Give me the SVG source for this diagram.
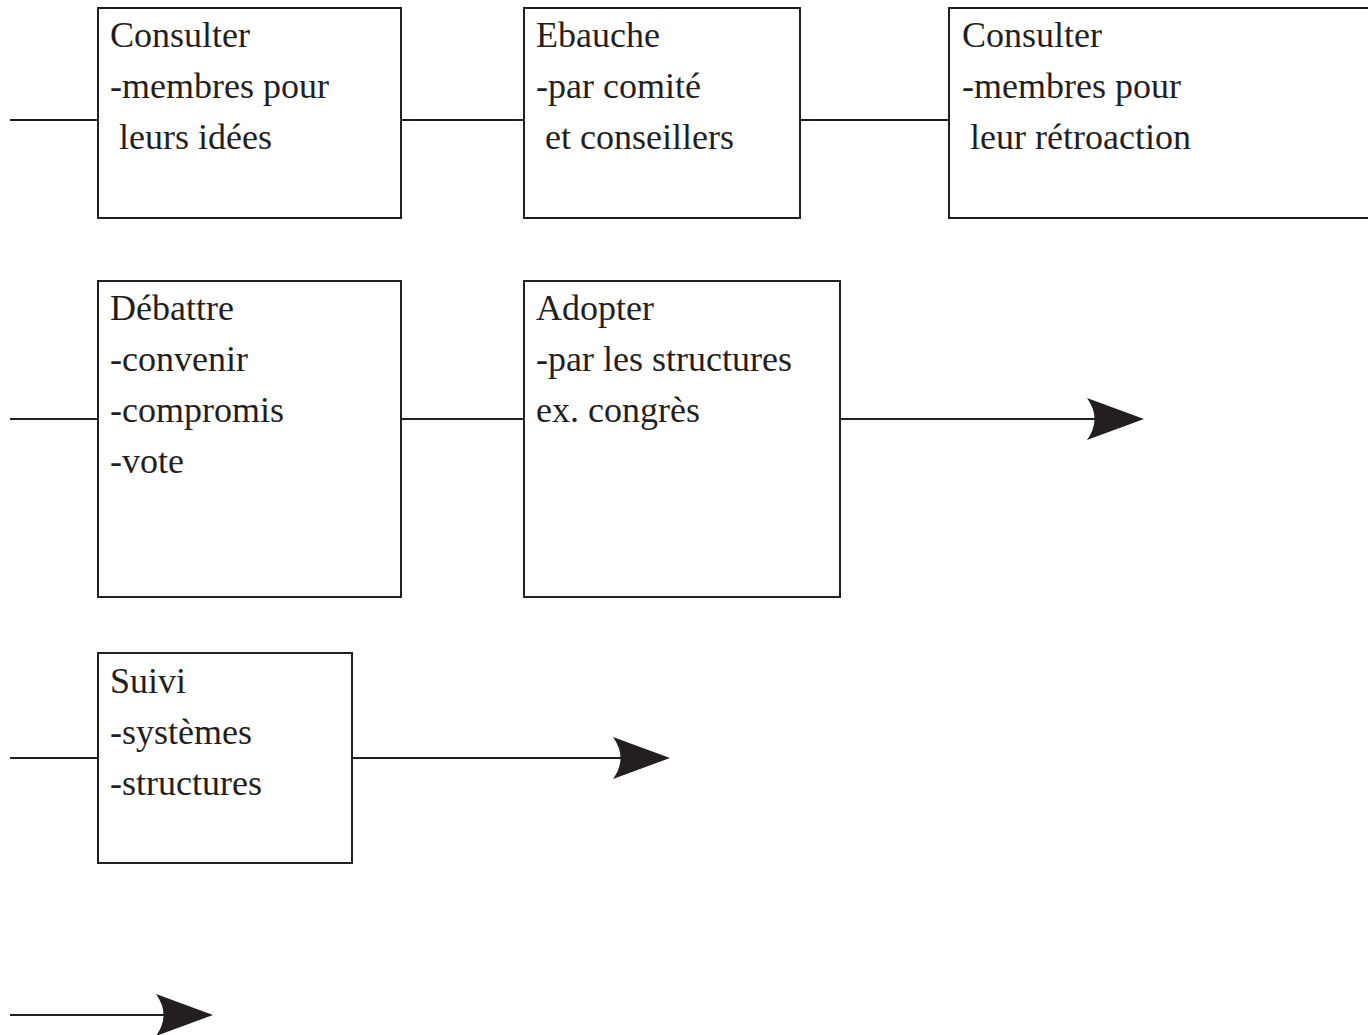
<svg xmlns="http://www.w3.org/2000/svg" width="1368" height="1035" viewBox="0 0 1368 1035">
<defs>
<style>
.box{fill:#fff;stroke:#231f20;stroke-width:2}
.ln{fill:none;stroke:#231f20;stroke-width:1.8}
.ah{fill:#231f20;stroke:none}
text{font-family:"Liberation Serif","Times New Roman",serif;font-size:36px;fill:#231f20}
</style>
<path id="head" d="M0,0 L-57,-21 Q-42,0 -57,21 Z"/>
</defs>
<rect width="1368" height="1035" fill="#fff"/>
<g id="connectors">
<line class="ln" x1="10" y1="120" x2="98" y2="120"/>
<line class="ln" x1="401" y1="120" x2="524" y2="120"/>
<line class="ln" x1="800" y1="120" x2="949" y2="120"/>
<line class="ln" x1="10" y1="419" x2="98" y2="419"/>
<line class="ln" x1="401" y1="419" x2="524" y2="419"/>
<line class="ln" x1="840" y1="419" x2="1100" y2="419"/>
<use href="#head" class="ah" x="1144" y="419"/>
<line class="ln" x1="10" y1="758" x2="98" y2="758"/>
<line class="ln" x1="352" y1="758" x2="625" y2="758"/>
<use href="#head" class="ah" x="670" y="758"/>
<line class="ln" x1="10" y1="1015" x2="170" y2="1015"/>
<use href="#head" class="ah" x="213" y="1015"/>
</g>
<g id="n1">
<rect class="box" x="98" y="8" width="303" height="210"/>
<text x="110" y="47">Consulter</text>
<text x="110" y="98">-membres pour</text>
<text x="119" y="149">leurs idées</text>
</g>
<g id="n2">
<rect class="box" x="524" y="8" width="276" height="210"/>
<text x="536" y="47">Ebauche</text>
<text x="536" y="98">-par comité</text>
<text x="545" y="149">et conseillers</text>
</g>
<g id="n3">
<rect class="box" x="949" y="8" width="440" height="210"/>
<text x="962" y="47">Consulter</text>
<text x="962" y="98">-membres pour</text>
<text x="970" y="149">leur rétroaction</text>
</g>
<g id="n4">
<rect class="box" x="98" y="281" width="303" height="316"/>
<text x="110" y="320">Débattre</text>
<text x="110" y="371">-convenir</text>
<text x="110" y="422">-compromis</text>
<text x="110" y="473">-vote</text>
</g>
<g id="n5">
<rect class="box" x="524" y="281" width="316" height="316"/>
<text x="536" y="320">Adopter</text>
<text x="536" y="371">-par les structures</text>
<text x="536" y="422">ex. congrès</text>
</g>
<g id="n6">
<rect class="box" x="98" y="653" width="254" height="210"/>
<text x="110" y="693">Suivi</text>
<text x="110" y="744">-systèmes</text>
<text x="110" y="795">-structures</text>
</g>
</svg>
